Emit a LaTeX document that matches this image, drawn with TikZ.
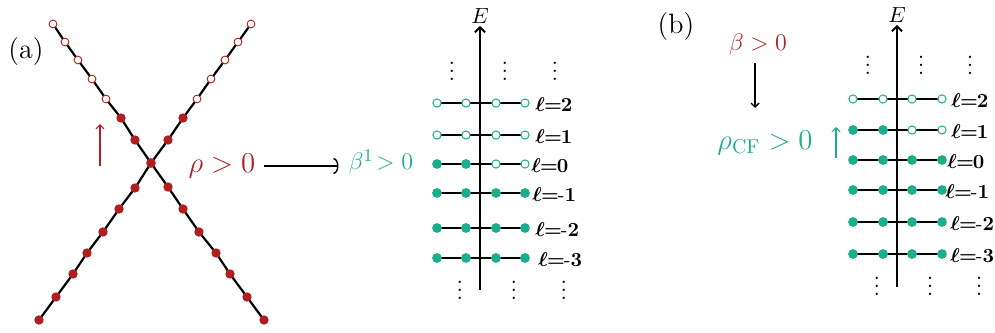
\documentclass[tikz,border=0pt]{standalone}
\usepackage{amsmath}
\usetikzlibrary{arrows.meta}
\definecolor{dred}{HTML}{B21E1E}
\definecolor{tealc}{HTML}{1BAE8B}
\newcommand{\lvl}[1]{\ell\mkern-0.5mu{=}\mkern-1mu#1}
\begin{document}
\begin{tikzpicture}[x=0.5pt,y=-0.5pt,
  band/.style={line width=1.1pt,line join=round},
  rdotf/.style={circle,fill=dred,inner sep=0pt,minimum size=4.7pt},
  rdoto/.style={circle,draw=dred,fill=white,line width=0.45pt,inner sep=0pt,minimum size=3.9pt},
  tdotf/.style={circle,fill=tealc,inner sep=0pt,minimum size=4.9pt},
  tdoto/.style={circle,draw=tealc,fill=white,line width=0.5pt,inner sep=0pt,minimum size=4.1pt},
  rowline/.style={line width=1pt},
  axisline/.style={line width=1.2pt,-{Straight Barb[length=2.5pt,width=5pt,line width=1pt]}},
  lab/.style={anchor=west,inner sep=0pt,font=\fontsize{10}{12}\selectfont\boldmath},
  etxt/.style={inner sep=1pt,font=\fontsize{11}{13}\selectfont},
  big/.style={inner sep=1pt,font=\fontsize{14}{16}\selectfont},
  dts/.style={inner sep=0pt,font=\fontsize{12}{14}\selectfont},
  thinarrow/.style={line width=0.6pt,-{Straight Barb[length=2pt,width=4pt]}},
  conn/.style={line width=0.7pt,-{Arc Barb[length=2.5pt,width=8pt]}},
]
\useasboundingbox (0,0) rectangle (995,332);

% ---------- panel (a): crossing bands ----------
\node[big] (labA) at (26,52) {(a)};
\foreach \x/\y [count=\i] in {53/24,65/42,78/60,92/79,106/99,121/118,135/140,151/163,168/187,183/209,199/232,216/253,230/274,247/297,264/320}
  \coordinate (p\i) at (\x,\y);
\foreach \x/\y [count=\i] in {251/24,238/42,225/60,211/79,197/99,183/118,168/140,151/163,135/188,119/209,103/232,87/253,73/274,56/297,39/320}
  \coordinate (q\i) at (\x,\y);
\draw[band] (p1) \foreach \i in {2,...,15}{ -- (p\i)};
\draw[band] (q1) \foreach \i in {2,...,15}{ -- (q\i)};
\foreach \i in {1,...,5}{
  \node[rdoto] (pp\i) at (p\i) {};
  \node[rdoto] (qq\i) at (q\i) {};
}
\foreach \i in {6,...,15}{
  \node[rdotf] (pp\i) at (p\i) {};
  \node[rdotf] (qq\i) at (q\i) {};
}
\coordinate (ra1) at (100,166);
\coordinate (ra2) at (100,124);
\draw[dred,thinarrow] (ra1) -- (ra2);

\node[big,text=dred] (rho) at (222,166) {$\rho>0$};
\node[big,text=tealc,font=\fontsize{13}{15}\selectfont] (betaA) at (381,162) {$\beta^{1}\!>0$};
\draw[conn,shorten <=3pt,shorten >=4pt] (rho.east) -- (rho.east -| betaA.west);

% ---------- panel (a): levels ----------
\node[etxt] (aE) at (480,16) {$E$};
\coordinate (aAxB) at (480,290);
\draw[axisline] (aAxB) -- (aE.south);
\foreach \y/\a/\b/\c/\d/\lx/\txt [count=\r] in {
  103/o/o/o/o/535/{\lvl{2}},
  135/o/o/o/o/535/{\lvl{1}},
  164/f/f/o/o/531/{\lvl{0}},
  193/f/f/f/f/532/{\lvl{\text{-}1}},
  228/f/f/f/f/535/{\lvl{\text{-}2}},
  258/f/f/f/f/538/{\lvl{\text{-}3}}}{
  \coordinate (aRL\r) at (437,\y);
  \coordinate (aRR\r) at (525,\y);
  \draw[rowline] (aRL\r) -- (aRR\r);
  \node[tdot\a] (aD\r a) at (437,\y) {};
  \node[tdot\b] (aD\r b) at (466,\y) {};
  \node[tdot\c] (aD\r c) at (496,\y) {};
  \node[tdot\d] (aD\r d) at (525,\y) {};
  \node[lab] (aL\r) at (\lx,\y+2) {$\txt$};
}
\node[dts] (aV1) at (452,65) {$\vdots$};
\node[dts] (aV2) at (505,65) {$\vdots$};
\node[dts] (aV3) at (555,65) {$\vdots$};
\node[dts] (aV4) at (460,284) {$\vdots$};
\node[dts] (aV5) at (514,284) {$\vdots$};
\node[dts] (aV6) at (564,284) {$\vdots$};

% ---------- panel (b) ----------
\node[big] (labB) at (676,27) {(b)};
\node[big,text=dred,font=\fontsize{13}{15}\selectfont] (betaB) at (758,44) {$\beta>0$};
\node[big,text=tealc] (rcf) at (765,143) {$\rho_{\mathrm{CF}}>0$};
\coordinate (bA1) at (755,63);
\coordinate (bA2) at (755,108);
\draw[thinarrow,line width=0.7pt] (bA1) -- (bA2);
\coordinate (ta1) at (836,158);
\coordinate (ta2) at (836,127);
\draw[tealc,thinarrow] (ta1) -- (ta2);

\node[etxt] (bE) at (897,15) {$E$};
\coordinate (bAxB) at (897,287);
\draw[axisline] (bAxB) -- (bE.south);
\foreach \y/\a/\b/\c/\d/\lx/\txt [count=\r] in {
  99/o/o/o/o/951/{\lvl{2}},
  130/f/f/o/o/951/{\lvl{1}},
  160/f/f/f/f/947/{\lvl{0}},
  190/f/f/f/f/945/{\lvl{\text{-}1}},
  222/f/f/f/f/950/{\lvl{\text{-}2}},
  254/f/f/f/f/950/{\lvl{\text{-}3}}}{
  \coordinate (bRL\r) at (853,\y);
  \coordinate (bRR\r) at (942,\y);
  \draw[rowline] (bRL\r) -- (bRR\r);
  \node[tdot\a] (bD\r a) at (853,\y) {};
  \node[tdot\b] (bD\r b) at (883,\y) {};
  \node[tdot\c] (bD\r c) at (912,\y) {};
  \node[tdot\d] (bD\r d) at (942,\y) {};
  \node[lab] (bL\r) at (\lx,\y+2) {$\txt$};
}
\node[dts] (bV1) at (868,59) {$\vdots$};
\node[dts] (bV2) at (921,59) {$\vdots$};
\node[dts] (bV3) at (970,59) {$\vdots$};
\node[dts] (bV4) at (877,280) {$\vdots$};
\node[dts] (bV5) at (930,280) {$\vdots$};
\node[dts] (bV6) at (979,280) {$\vdots$};
\end{tikzpicture}
\end{document}
